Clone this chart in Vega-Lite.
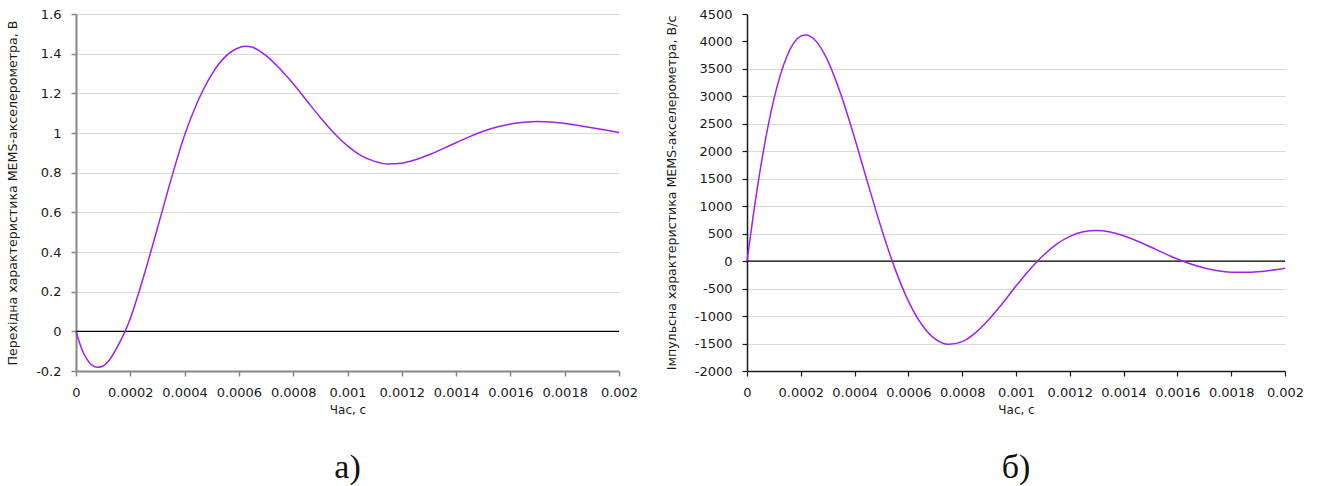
{
  "$schema": "https://vega.github.io/schema/vega-lite/v6.json",
  "background": "white",
  "padding": {"left": 6, "top": 8, "right": 10, "bottom": 0},
  "spacing": 27,
  "config": {
    "view": {"stroke": null},
    "font": "DejaVu Sans",
    "axis": {
      "labelFont": "DejaVu Sans",
      "labelFontSize": 13,
      "labelColor": "#1a1a1a",
      "labelOverlap": false,
      "labelBound": false,
      "labelFlush": false,
      "tickCount": 20,
      "titleFont": "DejaVu Sans",
      "titleFontSize": 12.6,
      "titleFontWeight": "normal",
      "titleColor": "#1a1a1a",
      "tickSize": 5,
      "gridColor": "#d9d9d9",
      "gridWidth": 1
    },
    "axisX": {"labelPadding": 10, "titlePadding": 5, "grid": false, "titleFontSize": 12},
    "axisY": {"labelPadding": 10, "titlePadding": 16, "grid": true},
    "title": {"font": "Liberation Serif", "fontSize": 34, "fontWeight": "normal", "color": "#111111"}
  },
  "datasets": {
    "step": [
      {"t": 0, "v": 0},
      {"t": 0.00002, "v": -0.085},
      {"t": 0.00004, "v": -0.14},
      {"t": 0.00006, "v": -0.172},
      {"t": 0.00008, "v": -0.181},
      {"t": 0.0001, "v": -0.175},
      {"t": 0.00012, "v": -0.15},
      {"t": 0.00014, "v": -0.108},
      {"t": 0.00016, "v": -0.058},
      {"t": 0.00018, "v": -0.003},
      {"t": 0.0002, "v": 0.065},
      {"t": 0.00025, "v": 0.28},
      {"t": 0.0003, "v": 0.52},
      {"t": 0.00035, "v": 0.765},
      {"t": 0.0004, "v": 0.99},
      {"t": 0.00045, "v": 1.164},
      {"t": 0.0005, "v": 1.296},
      {"t": 0.00055, "v": 1.385},
      {"t": 0.0006, "v": 1.43},
      {"t": 0.000625, "v": 1.437},
      {"t": 0.00065, "v": 1.432},
      {"t": 0.0007, "v": 1.39},
      {"t": 0.00075, "v": 1.325},
      {"t": 0.0008, "v": 1.248},
      {"t": 0.00085, "v": 1.163},
      {"t": 0.0009, "v": 1.078},
      {"t": 0.00095, "v": 1.0},
      {"t": 0.001, "v": 0.935},
      {"t": 0.00105, "v": 0.886},
      {"t": 0.0011, "v": 0.857},
      {"t": 0.00115, "v": 0.844},
      {"t": 0.0012, "v": 0.848},
      {"t": 0.00125, "v": 0.865},
      {"t": 0.0013, "v": 0.89},
      {"t": 0.00135, "v": 0.92},
      {"t": 0.0014, "v": 0.951},
      {"t": 0.00145, "v": 0.982},
      {"t": 0.0015, "v": 1.009},
      {"t": 0.00155, "v": 1.03},
      {"t": 0.0016, "v": 1.045},
      {"t": 0.00165, "v": 1.054},
      {"t": 0.0017, "v": 1.058},
      {"t": 0.00175, "v": 1.056},
      {"t": 0.0018, "v": 1.048},
      {"t": 0.00185, "v": 1.038},
      {"t": 0.0019, "v": 1.027},
      {"t": 0.00195, "v": 1.015},
      {"t": 0.002, "v": 1.003}
    ],
    "impulse": [
      {"t": 0, "v": 0},
      {"t": 0.000025, "v": 894},
      {"t": 0.00005, "v": 1690},
      {"t": 0.0001, "v": 2950},
      {"t": 0.00015, "v": 3750},
      {"t": 0.0002, "v": 4097},
      {"t": 0.00022, "v": 4119},
      {"t": 0.00025, "v": 4040},
      {"t": 0.0003, "v": 3651},
      {"t": 0.00035, "v": 3020},
      {"t": 0.0004, "v": 2243},
      {"t": 0.00045, "v": 1404},
      {"t": 0.0005, "v": 590},
      {"t": 0.00055, "v": -136},
      {"t": 0.0006, "v": -727},
      {"t": 0.00065, "v": -1157},
      {"t": 0.0007, "v": -1419},
      {"t": 0.00075, "v": -1515},
      {"t": 0.0008, "v": -1466},
      {"t": 0.00085, "v": -1301},
      {"t": 0.0009, "v": -1057},
      {"t": 0.00095, "v": -767},
      {"t": 0.001, "v": -453},
      {"t": 0.00105, "v": -160},
      {"t": 0.0011, "v": 98},
      {"t": 0.00115, "v": 304},
      {"t": 0.0012, "v": 450},
      {"t": 0.00125, "v": 534},
      {"t": 0.0013, "v": 557},
      {"t": 0.00135, "v": 530},
      {"t": 0.0014, "v": 463},
      {"t": 0.00145, "v": 368},
      {"t": 0.0015, "v": 258},
      {"t": 0.00155, "v": 145},
      {"t": 0.0016, "v": 39},
      {"t": 0.00165, "v": -53},
      {"t": 0.0017, "v": -125},
      {"t": 0.00175, "v": -174},
      {"t": 0.0018, "v": -200},
      {"t": 0.00185, "v": -204},
      {"t": 0.0019, "v": -191},
      {"t": 0.00195, "v": -164},
      {"t": 0.002, "v": -128}
    ]
  },
  "hconcat": [
    {
      "width": 543,
      "height": 357,
      "title": {"text": "а)", "orient": "bottom", "anchor": "middle", "offset": 36},
      "layer": [
        {
          "data": {"values": [{"level": 0}]},
          "mark": {"type": "rule", "color": "#000000", "strokeWidth": 1.2},
          "encoding": {"y": {"field": "level", "type": "quantitative"}}
        },
        {
          "data": {"name": "step"},
          "mark": {"type": "line", "color": "#a020f0", "strokeWidth": 1.5, "interpolate": "monotone"},
          "encoding": {
            "x": {
              "field": "t", "type": "quantitative",
              "scale": {"domain": [0, 0.002], "nice": false, "zero": false},
              "axis": {
                "title": "Час, с",
                "values": [0, 0.0002, 0.0004, 0.0006, 0.0008, 0.001, 0.0012, 0.0014, 0.0016, 0.0018, 0.002],
                "format": "~g",
                "domainColor": "#868686", "domainWidth": 2,
                "tickColor": "#868686", "tickWidth": 1.5
              }
            },
            "y": {
              "field": "v", "type": "quantitative",
              "scale": {"domain": [-0.2, 1.6], "nice": false},
              "axis": {
                "title": "Перехідна характеристика MEMS-акселерометра, В",
                "values": [-0.2, 0, 0.2, 0.4, 0.6, 0.8, 1, 1.2, 1.4, 1.6],
                "format": "~g",
                "labelExpr": "replace(datum.label, '−', '-')",
                "domainColor": "#868686", "domainWidth": 2,
                "tickColor": "#868686", "tickWidth": 1.5
              }
            }
          }
        }
      ]
    },
    {
      "width": 538,
      "height": 357,
      "title": {"text": "б)", "orient": "bottom", "anchor": "middle", "offset": 36},
      "layer": [
        {
          "data": {"values": [{"level": 0}]},
          "mark": {"type": "rule", "color": "#000000", "strokeWidth": 1.2},
          "encoding": {"y": {"field": "level", "type": "quantitative"}}
        },
        {
          "data": {"name": "impulse"},
          "mark": {"type": "line", "color": "#a020f0", "strokeWidth": 1.5, "interpolate": "monotone"},
          "encoding": {
            "x": {
              "field": "t", "type": "quantitative",
              "scale": {"domain": [0, 0.002], "nice": false, "zero": false},
              "axis": {
                "title": "Час, с",
                "values": [0, 0.0002, 0.0004, 0.0006, 0.0008, 0.001, 0.0012, 0.0014, 0.0016, 0.0018, 0.002],
                "format": "~g",
                "domainColor": "#1a1a1a", "domainWidth": 1.5,
                "tickColor": "#1a1a1a", "tickWidth": 1.2
              }
            },
            "y": {
              "field": "v", "type": "quantitative",
              "scale": {"domain": [-2000, 4500], "nice": false},
              "axis": {
                "title": "Імпульсна характеристика MEMS-акселерометра, В/с",
                "values": [-2000, -1500, -1000, -500, 0, 500, 1000, 1500, 2000, 2500, 3000, 3500, 4000, 4500],
                "format": "d",
                "labelExpr": "replace(datum.label, '−', '-')",
                "gridOpacity": {"condition": {"test": "datum.value > 3500", "value": 0}, "value": 1},
                "domainColor": "#1a1a1a", "domainWidth": 1.5,
                "tickColor": "#1a1a1a", "tickWidth": 1.2
              }
            }
          }
        }
      ]
    }
  ]
}
